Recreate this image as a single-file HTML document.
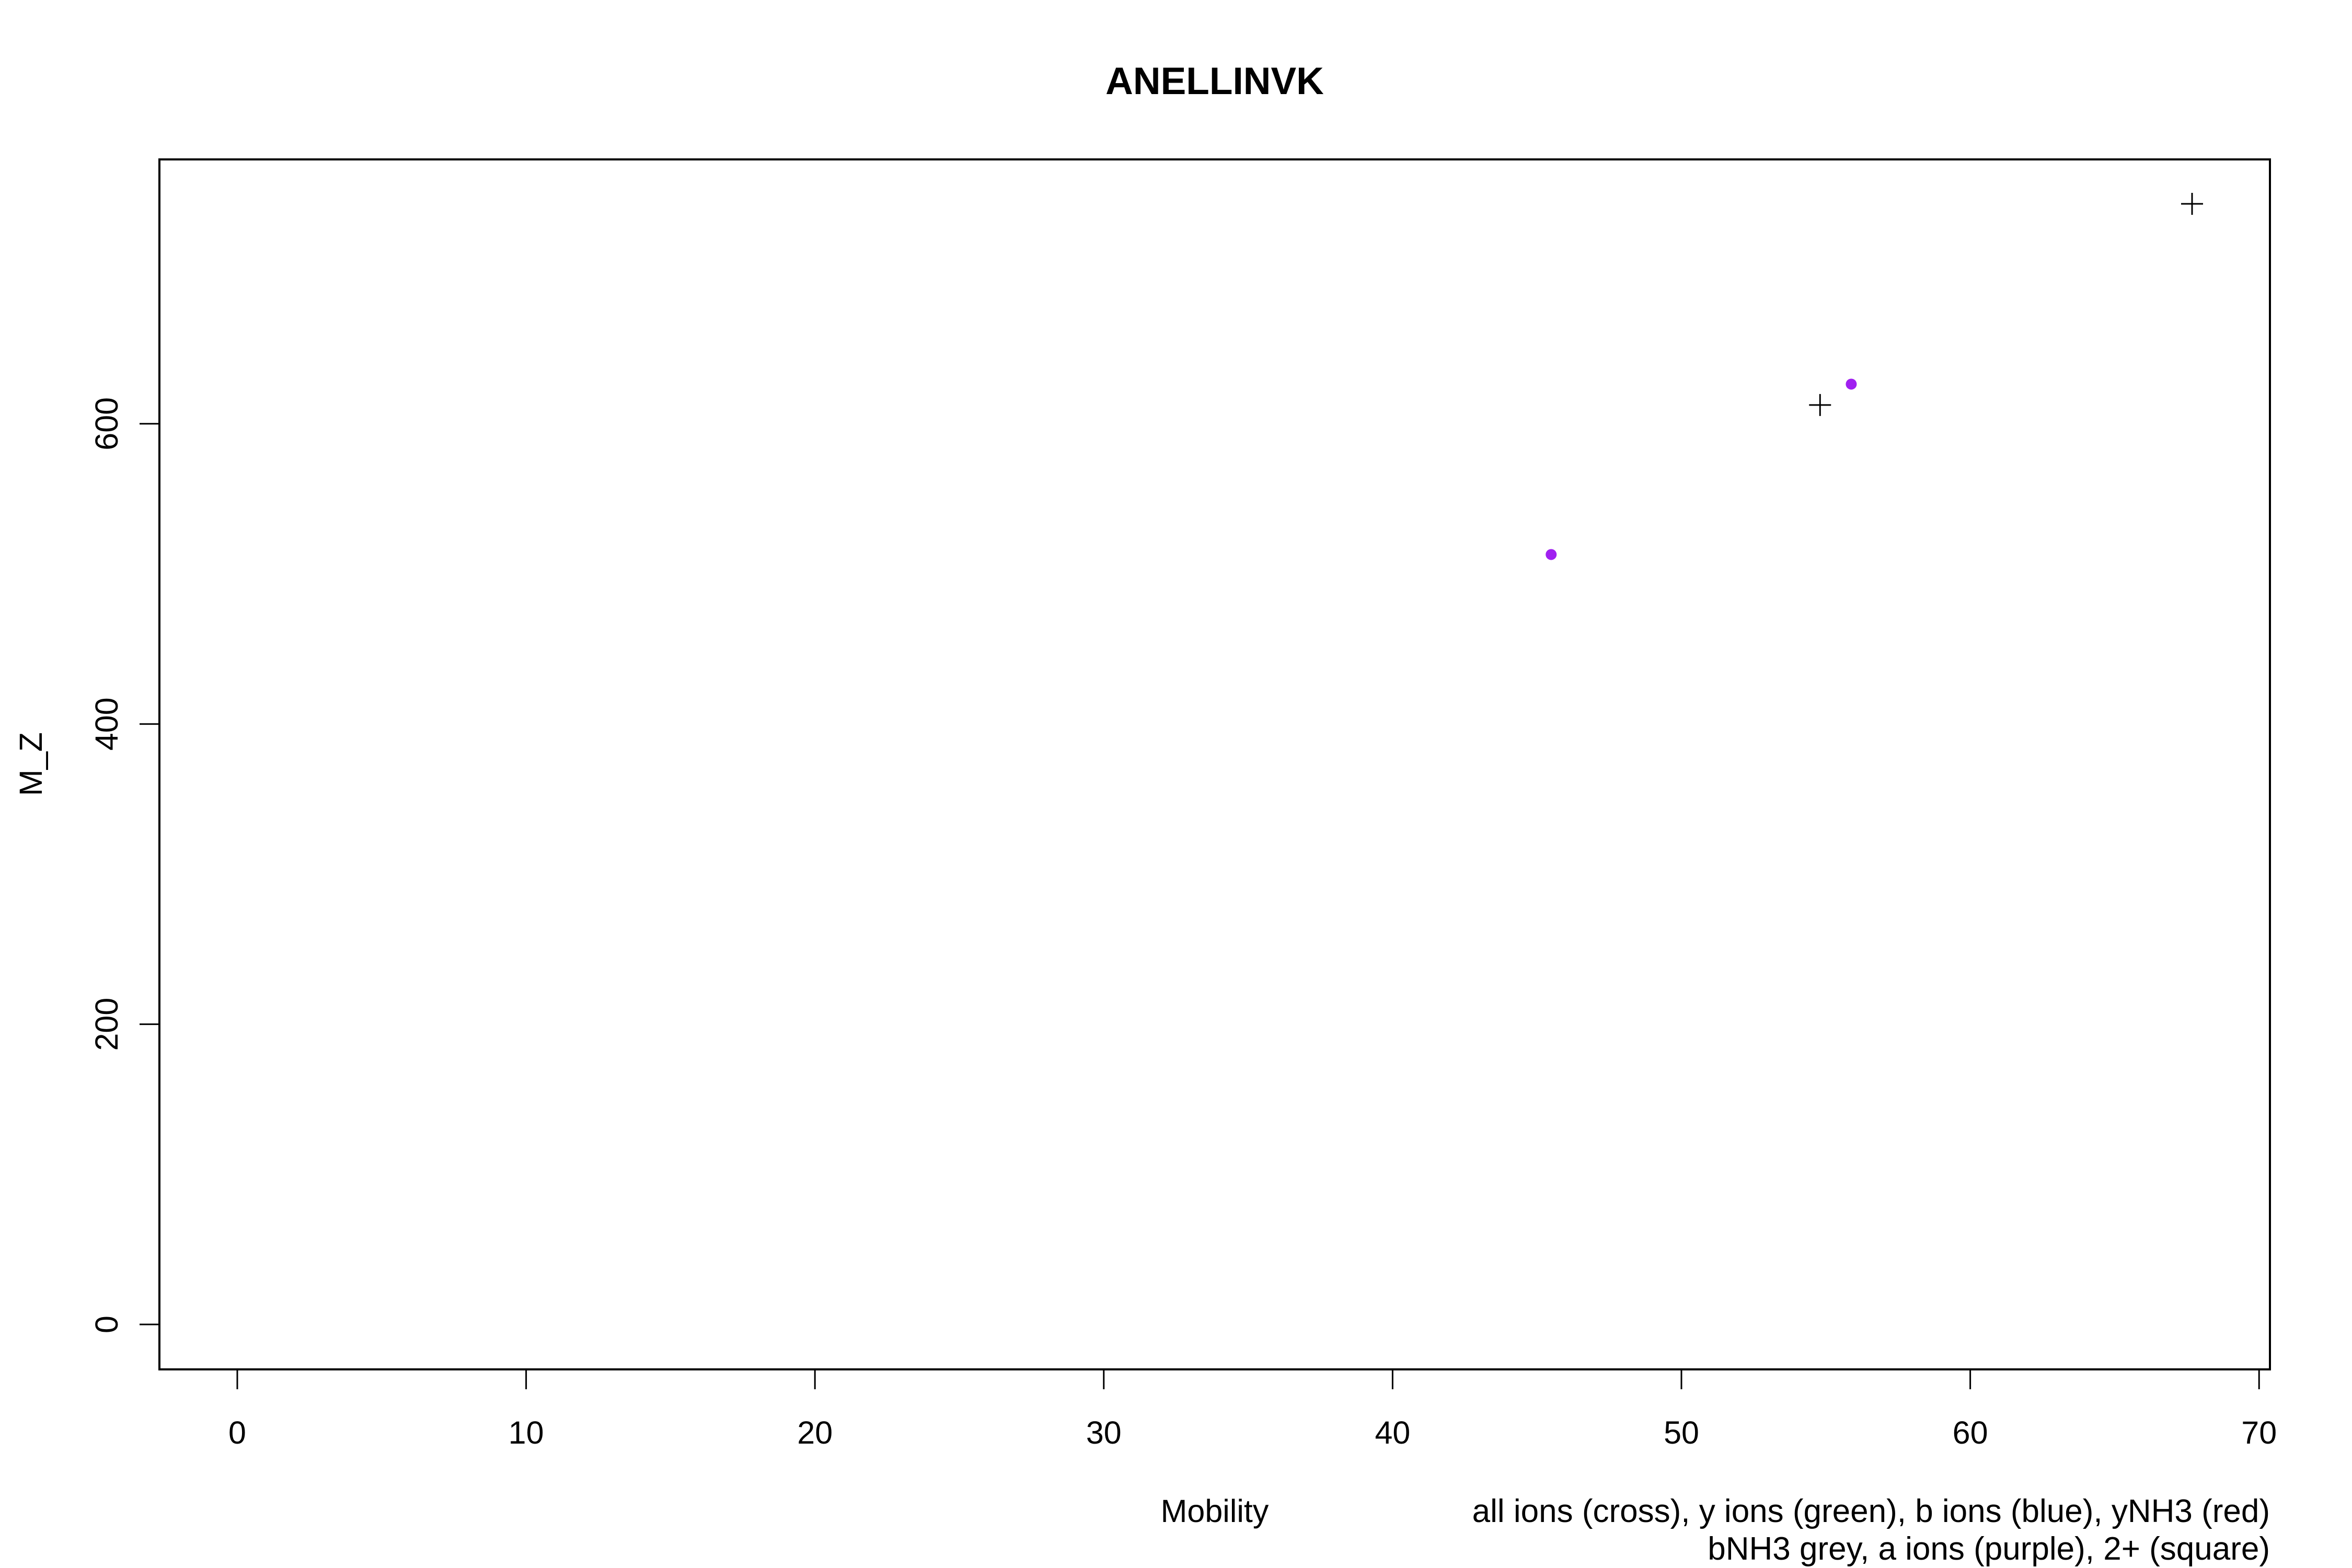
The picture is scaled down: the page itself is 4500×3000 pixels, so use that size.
<!DOCTYPE html>
<html><head><meta charset="utf-8"><style>
html,body{margin:0;padding:0;background:#fff;}
svg{display:block;font-family:"Liberation Sans",Arial,sans-serif;}
</style></head><body>
<svg id="chart" width="4500" height="3000" viewBox="0 0 4500 3000" xmlns="http://www.w3.org/2000/svg">
<rect x="0" y="0" width="4500" height="3000" fill="#fff"/>
<text x="2324" y="180" font-size="73" font-weight="bold" text-anchor="middle">ANELLINVK</text>
<rect x="305" y="305" width="4038" height="2315" fill="none" stroke="#000" stroke-width="4"/>
<g id="xaxis"></g>
<g id="yaxis"></g>
<g id="marks"></g>
<text x="2324" y="2912" font-size="61" text-anchor="middle">Mobility</text>
<text transform="translate(80,1462) rotate(-90)" font-size="61" text-anchor="middle">M_Z</text>
<text x="4343" y="2912" font-size="62" text-anchor="end">all ions (cross), y ions (green), b ions (blue), yNH3 (red)</text>
<text x="4343" y="2984" font-size="62" text-anchor="end">bNH3 grey, a ions (purple), 2+ (square)</text>
</svg>
<script>
const xTicks = [0, 10, 20, 30, 40, 50, 60, 70];
const yTicks = [0, 200, 400, 600];
const crossX = [67.68, 54.8];
const crossY = [746.5, 612.5];
const aIonX = [55.88, 45.49];
const aIonY = [626.4, 512.9];

const NS = "http://www.w3.org/2000/svg";
function sx(v){ return 454 + v * 55.26; }
function sy(v){ return 2534 - v * 2.872; }
function mk(tag, attrs, parent){
  const e = document.createElementNS(NS, tag);
  for (const k in attrs) e.setAttribute(k, attrs[k]);
  parent.appendChild(e);
  return e;
}
const xg = document.getElementById('xaxis');
const yg = document.getElementById('yaxis');
const mg = document.getElementById('marks');

xTicks.forEach(function(t){
  const l = mk('line', {x1: sx(t), x2: sx(t), y1: 2620, y2: 2658, stroke: '#000', 'stroke-width': 3}, xg);
  
  
  const tx = mk('text', {x: sx(t), y: 2762, 'font-size': 61, 'text-anchor': 'middle'}, xg);
  tx.textContent = String(t);
  
  
});
yTicks.forEach(function(t){
  const l = mk('line', {x1: 267, x2: 305, y1: sy(t), y2: sy(t), stroke: '#000', 'stroke-width': 3}, yg);
  
  
  const tx = mk('text', {transform: 'translate(225,' + sy(t) + ') rotate(-90)', 'font-size': 61, 'text-anchor': 'middle'}, yg);
  tx.textContent = String(t);
  
  
});
crossX.forEach(function(v, i){
  const cx = sx(v), cy = sy(crossY[i]);
  const p = mk('path', {d: 'M' + (cx-21) + ' ' + cy + 'H' + (cx+21) + 'M' + cx + ' ' + (cy-21) + 'V' + (cy+21), stroke: '#000', 'stroke-width': 3, fill: 'none'}, mg);
  
  
});
aIonX.forEach(function(v, i){
  const c = mk('circle', {cx: sx(v), cy: sy(aIonY[i]), r: 10.5, fill: '#a020f0'}, mg);
  
  
});
</script>
</body></html>
